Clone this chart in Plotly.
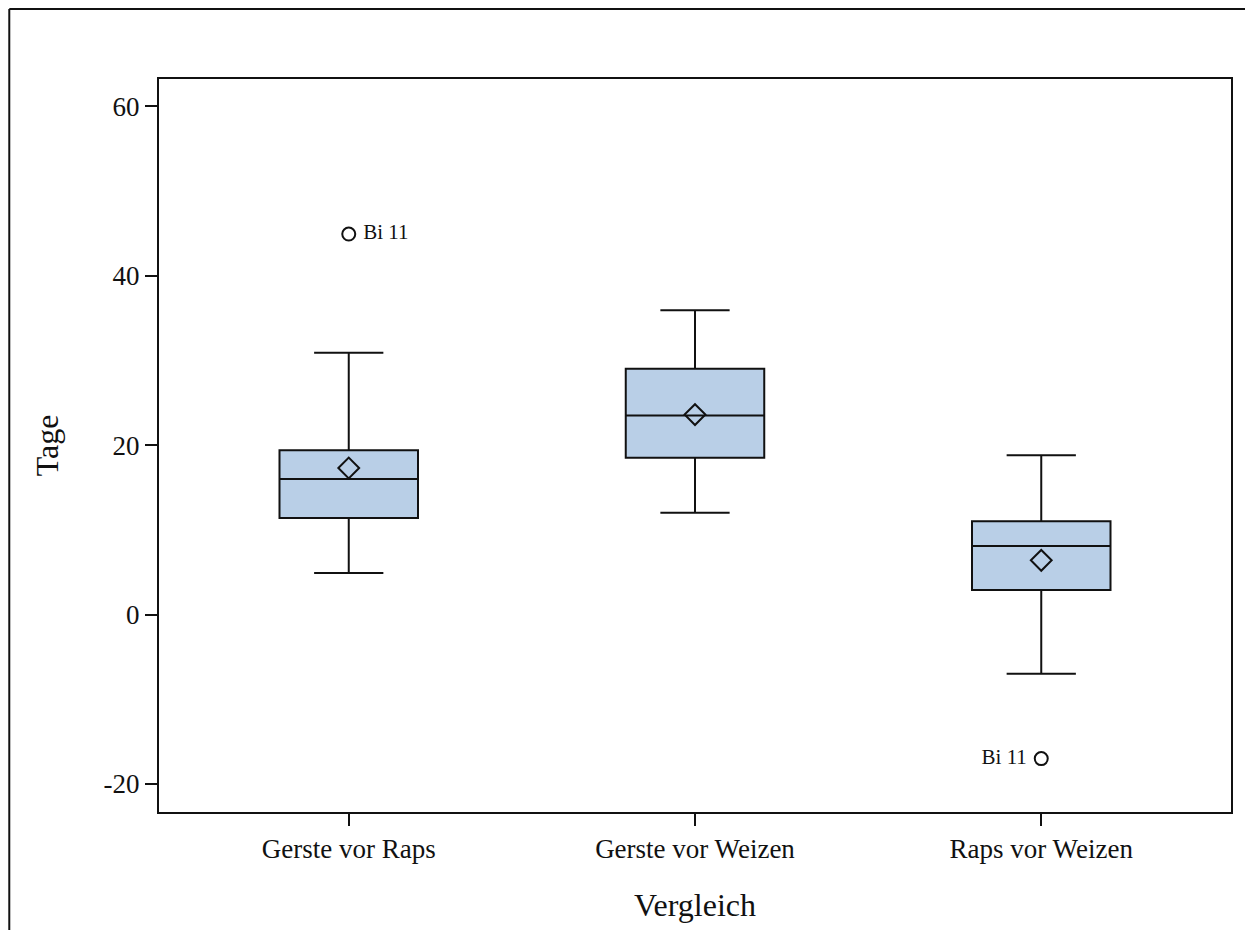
import plotly.graph_objects as go

categories = ["Gerste vor Raps", "Gerste vor Weizen", "Raps vor Weizen"]
q1 = [11.4, 18.5, 2.9]
median = [16.0, 23.5, 8.1]
q3 = [19.4, 29.0, 11.0]
lower_whisker = [4.9, 12.0, -7.0]
upper_whisker = [30.9, 35.9, 18.8]
means = [17.3, 23.6, 6.4]
outlier_cats = ["Gerste vor Raps", "Raps vor Weizen"]
outlier_vals = [44.9, -17.0]
outlier_labels = ["Bi 11", "Bi 11"]
outlier_textpos = ["middle right", "middle left"]
y_ticks = [-20, 0, 20, 40, 60]
y_ticktext = ["-20", "0", "20", "40", "60"]

FONT = "Liberation Serif"

fig = go.Figure()
fig.add_trace(go.Box(
    x=categories, q1=q1, median=median, q3=q3,
    lowerfence=lower_whisker, upperfence=upper_whisker,
    boxpoints=False, width=0.4, whiskerwidth=0.5,
    fillcolor="#b9cfe7", line=dict(color="#111111", width=2),
    showlegend=False, hoverinfo="skip",
))
fig.add_trace(go.Scatter(
    x=categories, y=means, mode="markers",
    marker=dict(symbol="diamond-open", size=16, color="#111111", line=dict(width=2, color="#111111")),
    showlegend=False,
))
fig.add_trace(go.Scatter(
    x=outlier_cats, y=outlier_vals, mode="markers+text",
    text=[" " + t + " " for t in outlier_labels], textposition=outlier_textpos,
    textfont=dict(family=FONT, size=21, color="#111111"),
    marker=dict(symbol="circle-open", size=13, color="#111111", line=dict(width=2, color="#111111")),
    showlegend=False,
))

W, H = 1237, 922
L, R, T, B = 151, 12, 71, 118
pw, ph = W - L - R, H - T - B
bx = (1 - L) / pw
by = 1 + (T - 1) / ph
# outer frame: only left and top edges are visible in the reference
fig.add_shape(type="line", xref="paper", yref="paper",
              x0=bx, x1=bx, y0=-1, y1=by, line=dict(color="#111111", width=2))
fig.add_shape(type="line", xref="paper", yref="paper",
              x0=bx, x1=2, y0=by, y1=by, line=dict(color="#111111", width=2))

fig.update_layout(
    width=W, height=H,
    margin=dict(l=L, r=R, t=T, b=B),
    paper_bgcolor="white", plot_bgcolor="white",
    font=dict(family=FONT, size=27, color="#111111"),
    xaxis=dict(
        type="category", range=[-0.548, 2.548],
        showline=True, mirror=True, linecolor="#111111", linewidth=2,
        ticks="outside", ticklen=12, tickwidth=2, tickcolor="#111111",
        showgrid=False, zeroline=False,
        title=dict(text="Vergleich", standoff=30),
        tickfont=dict(size=27),
    ),
    yaxis=dict(
        range=[-23.3, 63.2], tickvals=y_ticks, ticktext=y_ticktext,
        showline=True, mirror=True, linecolor="#111111", linewidth=2,
        ticks="outside", ticklen=12, tickwidth=2, tickcolor="#111111",
        showgrid=False, zeroline=False,
        title=dict(text="Tage", standoff=35),
        tickfont=dict(size=27),
    ),
)

fig.write_html("out.html")
